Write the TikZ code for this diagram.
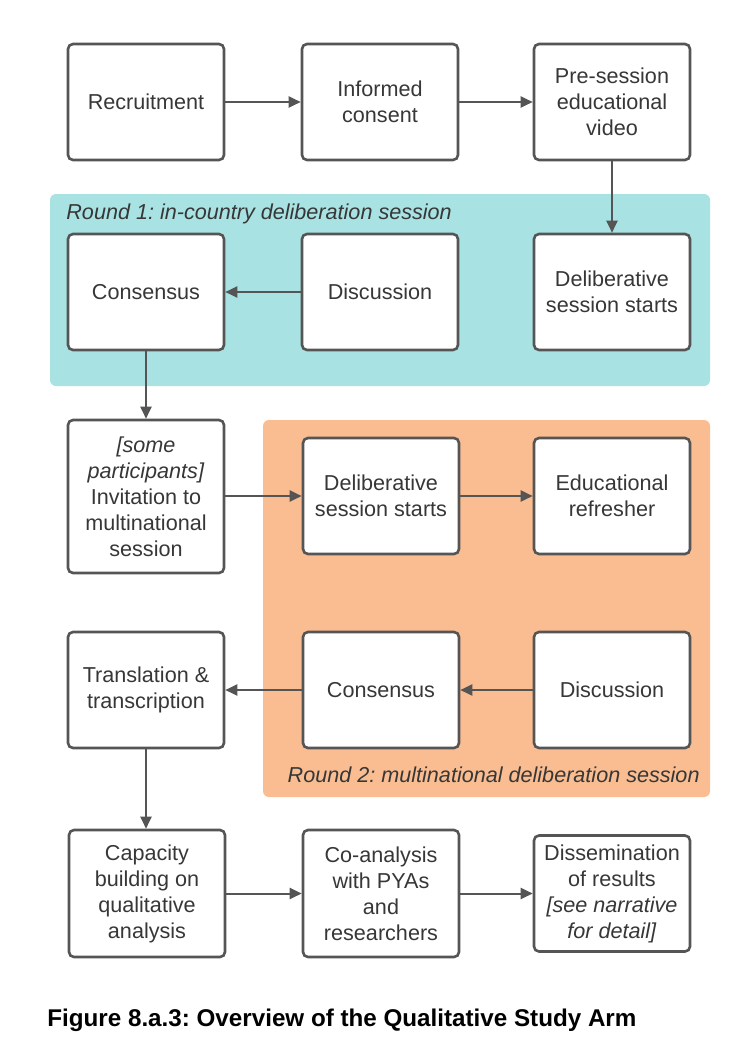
\documentclass[tikz,border=0pt]{standalone}
\usepackage{fontspec}
\setmainfont{Liberation Sans}
\usetikzlibrary{arrows.meta}
\frenchspacing
\definecolor{teal1}{RGB}{168,226,227}
\definecolor{orange1}{RGB}{249,189,145}
\definecolor{edgegray}{RGB}{85,85,85}
\definecolor{txtgray}{RGB}{55,55,55}
\tikzset{
  stepbox/.style={draw=edgegray, line width=1.3pt, rounded corners=2.5pt, fill=white,
    minimum width=78pt, minimum height=58pt, align=center, text=txtgray,
    font=\fontsize{10.8}{13}\selectfont, inner sep=2pt},
  flow/.style={draw=edgegray, line width=1pt, -{Triangle[length=6pt,width=5.5pt]}},
  rlabel/.style={font=\fontsize{10.8}{13}\selectfont\itshape, text=txtgray, inner sep=0pt}
}
\begin{document}
\begin{tikzpicture}[x=0.5pt,y=-0.5pt]
\useasboundingbox (0,0) rectangle (732,1060);
% regions
\fill[teal1, rounded corners=3pt] (50,194) rectangle (710,386);
\fill[orange1, rounded corners=3pt] (263,420) rectangle (710,797);
\node[rlabel, anchor=west] (r1) at (66,214) {Round 1: in-country deliberation session};
\node[rlabel, anchor=east] (r2) at (700,775) {Round 2: multinational deliberation session};
% row 1
\node[stepbox] (rec) at (146,102) {Recruitment};
\node[stepbox] (inf) at (380,102) {Informed\\consent};
\node[stepbox] (pre) at (612,102) {Pre-session\\educational\\video};
% row 2
\node[stepbox] (con1) at (146,292) {Consensus};
\node[stepbox] (dis1) at (380,292) {Discussion};
\node[stepbox] (del1) at (612,292) {Deliberative\\session starts};
% row 3
\node[stepbox, minimum height=76.5pt] (inv) at (146,496.5) {\textit{[some}\\\textit{participants]}\\Invitation to\\multinational\\session};
\node[stepbox] (del2) at (381,496) {Deliberative\\session starts};
\node[stepbox] (edu) at (612,496) {Educational\\refresher};
% row 4
\node[stepbox] (tra) at (146,690) {Translation \&\\transcription};
\node[stepbox] (con2) at (381,690) {Consensus};
\node[stepbox] (dis2) at (612,690) {Discussion};
% row 5
\node[stepbox, minimum height=63.5pt] (cap) at (147,893.5) {Capacity\\building on\\qualitative\\analysis};
\node[stepbox, minimum height=63.5pt] (coa) at (381,893.5) {Co-analysis\\with PYAs\\and\\researchers};
\node[stepbox] (dsm) at (612,893.5) {Dissemination\\of results\\\textit{[see narrative}\\\textit{for detail]}};
% caption
\node[anchor=west, inner sep=0pt, font=\fontsize{12.1}{14}\selectfont\bfseries] (cap0) at (47,1020) {Figure 8.a.3: Overview of the Qualitative Study Arm};
% connectors
\draw[flow] (rec) -- (inf);
\draw[flow] (inf) -- (pre);
\draw[flow] (pre) -- (del1);
\draw[flow] (dis1) -- (con1);
\draw[flow] (con1) -- (inv);
\draw[flow] (inv.east |- del2) -- (del2);
\draw[flow] (del2) -- (edu);
\draw[flow] (dis2) -- (con2);
\draw[flow] (con2) -- (tra);
\draw[flow] (tra) -- (tra |- cap.north);
\draw[flow] (cap) -- (coa);
\draw[flow] (coa) -- (dsm);
\end{tikzpicture}
\end{document}
